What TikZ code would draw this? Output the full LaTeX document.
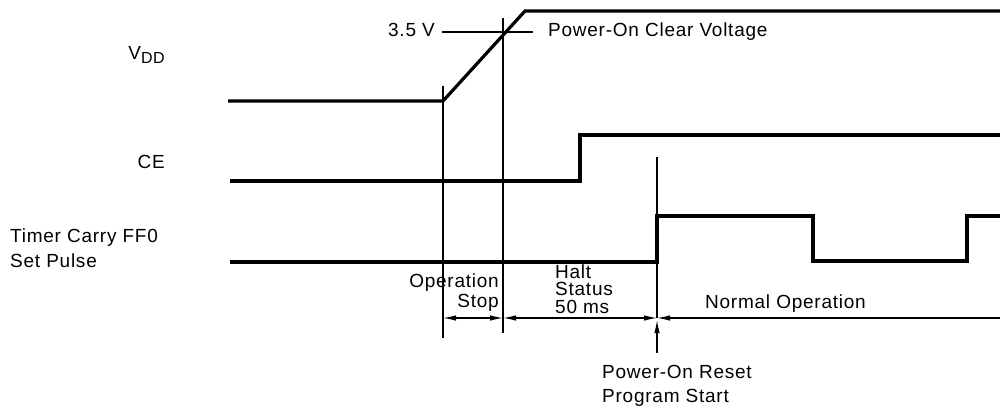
\documentclass[tikz,border=0pt]{standalone}
\usepackage{fontspec}
\setmainfont[LetterSpace=4]{Liberation Sans}
\usetikzlibrary{arrows.meta}
\begin{document}
\begin{tikzpicture}[x=1pt,y=-1pt,
  wave/.style={line width=3.2pt, line join=miter},
  guide/.style={line width=1.2pt},
  dimline/.style={line width=1.2pt},
  lbl/.style={inner sep=0pt, font=\fontsize{19}{19}\selectfont},
  tight/.style={lbl, text height=11pt, text depth=1pt},
  >={Latex[length=13pt,width=5.5pt]}]
\useasboundingbox (0,0) rectangle (1000,409);
% waveforms
\draw[wave] (228,101) -- (443,101) -- (525,11) -- (1000,11);
\draw[wave] (230,181) -- (580,181) -- (580,135) -- (1000,135);
\draw[wave] (230,262) -- (657,262) -- (657,216) -- (813,216) -- (813,261) -- (967,261) -- (967,216) -- (1000,216);
% guide lines
\coordinate (g1t) at (443,86);  \coordinate (g1b) at (443,338);
\coordinate (g2t) at (503,18);  \coordinate (g2b) at (503,333);
\coordinate (g3t) at (657,157); \coordinate (g3b) at (657,318);
\coordinate (vl) at (442,32);   \coordinate (vr) at (533,32);
\draw[guide] (g1t) -- (g1b);
\draw[guide] (g2t) -- (g2b);
\draw[guide] (g3t) -- (g3b);
\draw[guide] (vl) -- (vr);
% dimension lines
\coordinate (d1) at (443,318);
\coordinate (d2) at (503,318);
\coordinate (d3) at (657,318);
\coordinate (d4) at (1000,318);
\coordinate (a0) at (657,353);
\coordinate (a1) at (657,320);
\draw[dimline,<->] (d1) -- (d2);
\draw[dimline,<->] (d2) -- (d3);
\draw[dimline,<-] (d3) -- (d4);
\draw[dimline,->] (a0) -- (a1);
% labels
\node[lbl,anchor=base east] (vdd) at (165,60) {V\raisebox{-4pt}{\fontsize{16}{16}\selectfont DD}};
\node[lbl,anchor=base east] (ce) at (165,168) {CE};
\node[tight,anchor=base west] (tc1) at (10,242) {Timer Carry FF0};
\node[tight,anchor=base west] (tc2) at (10,267) {Set Pulse};
\node[lbl,anchor=base east] (v35) at (435,37) {3.5 V};
\node[lbl,anchor=base west] (pocv) at (548,37) {Power-On Clear Voltage};
\node[tight,anchor=base east] (op) at (499,287) {Operation};
\node[tight,anchor=base east] (stop) at (499,307) {Stop};
\node[tight,anchor=base west] (halt) at (555,278) {Halt};
\node[tight,anchor=base west] (status) at (555,295.5) {Status};
\node[tight,anchor=base west] (ms) at (555,313) {50 ms};
\node[lbl,anchor=base west] (norm) at (705,308) {Normal Operation};
\node[tight,anchor=base west] (por) at (602,378) {Power-On Reset};
\node[tight,anchor=base west] (ps) at (602,402) {Program Start};
\end{tikzpicture}
\end{document}
